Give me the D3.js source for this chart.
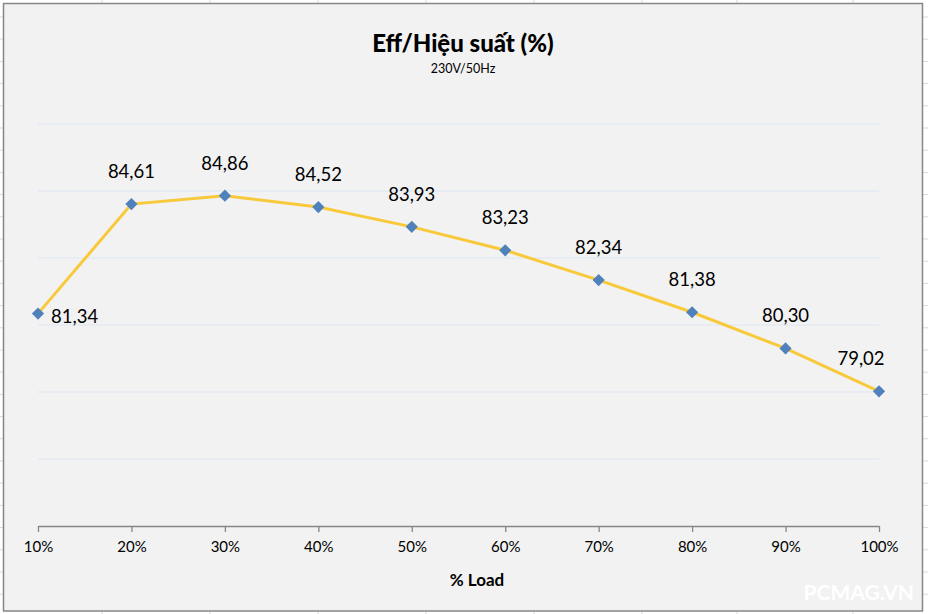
<!DOCTYPE html>
<html>
<head>
<meta charset="utf-8">
<script src="https://cdn.jsdelivr.net/npm/d3@7"></script>
<style>
  body { margin: 0; background: #fff; }
  svg { display: block; font-family: Lato, "Open Sans", sans-serif; }
</style>
</head>
<body>
<svg id="chart"></svg>
<script>
// series
const loads = ["10%", "20%", "30%", "40%", "50%", "60%", "70%", "80%", "90%", "100%"];
const eff = [81.34, 84.61, 84.86, 84.52, 83.93, 83.23, 82.34, 81.38, 80.30, 79.02];
const yTicks = [75, 77, 79, 81, 83, 85, 87];

const W = 928, H = 614;
const svg = d3.select("#chart").attr("width", W).attr("height", H);

// spreadsheet cells behind the chart
const rowLines = d3.range(17, H, 22.2);
svg.selectAll("line.row").data(rowLines).enter().append("line")
  .attr("x1", 0).attr("x2", W)
  .attr("y1", d => d).attr("y2", d => d)
  .attr("stroke", "#d9d9d9");
const colLines = [102, 210, 318, 426, 534, 642, 737, 853];
svg.selectAll("line.col").data(colLines).enter().append("line")
  .attr("x1", d => d).attr("x2", d => d)
  .attr("y1", 0).attr("y2", H)
  .attr("stroke", "#d9d9d9");

// chart area
svg.append("rect")
  .attr("x", 3.5).attr("y", 3.5).attr("width", 919).attr("height", 607.5)
  .attr("fill", "#f2f2f2").attr("stroke", "#868686").attr("stroke-width", 1.5);

const x = d3.scalePoint().domain(loads).range([38, 879]);
const y = d3.scaleLinear().domain([75, 87]).range([526, 124]);

// gridlines
svg.append("g")
  .selectAll("line").data(yTicks.slice(1)).enter().append("line")
  .attr("x1", 38).attr("x2", 879)
  .attr("y1", d => y(d)).attr("y2", d => y(d))
  .attr("stroke", "#dce6f2").attr("stroke-width", 1);

// x axis
const xAxis = svg.append("g")
  .attr("transform", `translate(0,${y(75)})`)
  .call(d3.axisBottom(x).tickSizeInner(6).tickSizeOuter(0).tickPadding(9));
xAxis.select(".domain").attr("stroke", "#868686").attr("stroke-width", 1.3);
xAxis.selectAll(".tick line").attr("stroke", "#868686").attr("stroke-width", 1.3);
xAxis.selectAll(".tick text")
  .attr("fill", "#000").style("font-size", "15px").style("font-family", "Lato, sans-serif");

// line
const line = d3.line()
  .x((d, i) => x(loads[i]))
  .y(d => y(d));
svg.append("path")
  .datum(eff)
  .attr("d", line)
  .attr("fill", "none")
  .attr("stroke", "#f8c93a")
  .attr("stroke-width", 3);

// markers
svg.append("g")
  .selectAll("path").data(eff).enter().append("path")
  .attr("d", d3.symbol().type(d3.symbolDiamond2).size(95))
  .attr("transform", (d, i) => `translate(${x(loads[i])},${y(d)})`)
  .attr("fill", "#4f81bd");

// data labels
const fmt = d => d.toFixed(2).replace(".", ",");
svg.append("g")
  .selectAll("text").data(eff).enter().append("text")
  .attr("x", (d, i) => i === 0 ? x(loads[i]) + 13 : Math.min(x(loads[i]), 861))
  .attr("y", (d, i) => i === 0 ? y(d) + 9 : y(d) - 26)
  .attr("text-anchor", (d, i) => i === 0 ? "start" : "middle")
  .style("font-size", "18.5px")
  .attr("fill", "#000")
  .text(fmt);

// titles
svg.append("text")
  .attr("x", 463).attr("y", 52).attr("text-anchor", "middle")
  .style("font-size", "24px").style("font-weight", "900")
  .text("Eff/Hiệu suất (%)");
svg.append("text")
  .attr("x", 463).attr("y", 73).attr("text-anchor", "middle")
  .style("font-size", "12.5px")
  .text("230V/50Hz");
svg.append("text")
  .attr("x", 477).attr("y", 586).attr("text-anchor", "middle")
  .style("font-size", "17px").style("font-weight", "bold")
  .text("% Load");

// watermark
svg.append("text")
  .attr("x", 914).attr("y", 600).attr("text-anchor", "end")
  .style("font-size", "21px").style("font-weight", "bold")
  .attr("fill", "#ffffff")
  .text("PCMAG.VN");
</script>
</body>
</html>
